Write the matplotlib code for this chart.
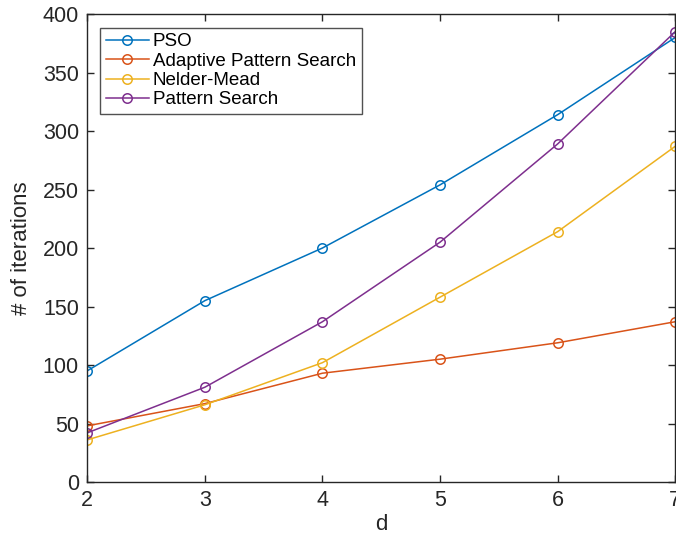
import matplotlib.pyplot as plt

# iteration counts versus problem dimension d
d = [2, 3, 4, 5, 6, 7]
pso = [95, 155, 200, 254, 314, 380]
adaptive_ps = [48, 67, 93, 105, 119, 137]
nelder_mead = [36, 66, 102, 158, 214, 287]
pattern_search = [42, 81, 137, 205, 289, 385]

series = [
    ("PSO", pso, "#0072BD"),
    ("Adaptive Pattern Search", adaptive_ps, "#D95319"),
    ("Nelder-Mead", nelder_mead, "#EDB120"),
    ("Pattern Search", pattern_search, "#7E2F8E"),
]

plt.rcParams['font.family'] = ['Liberation Sans', 'DejaVu Sans']
axis_color = "#262626"

fig = plt.figure(figsize=(6.76, 5.37), dpi=100)
ax = fig.add_axes([0.129, 0.1024, 0.870, 0.8715])

for name, vals, color in series:
    ax.plot(d, vals, color=color, lw=1.1, marker='o', markersize=6.8,
            markerfacecolor='none', markeredgewidth=1.1, label=name)

ax.set_xlim(2, 7)
ax.set_ylim(0, 400)
ax.set_xticks(d)
ax.set_yticks(range(0, 401, 50))
ax.tick_params(direction='in', top=True, right=True, length=5, width=1,
               colors=axis_color, labelsize=15.5, pad=6)
for sp in ax.spines.values():
    sp.set_color(axis_color)
    sp.set_linewidth(1)

ax.set_xlabel("d", fontsize=16, color=axis_color, labelpad=2)
ax.set_ylabel("# of iterations", fontsize=16, color=axis_color, labelpad=8)

leg = ax.legend(loc='upper left', bbox_to_anchor=(0.022, 0.971), fontsize=13.5,
                frameon=True, fancybox=False, edgecolor=axis_color,
                handlelength=2.3, handletextpad=0.2, borderpad=0.3,
                labelspacing=0.12, borderaxespad=0)
leg.get_frame().set_linewidth(1)

fig.savefig("out.png", dpi=100)
